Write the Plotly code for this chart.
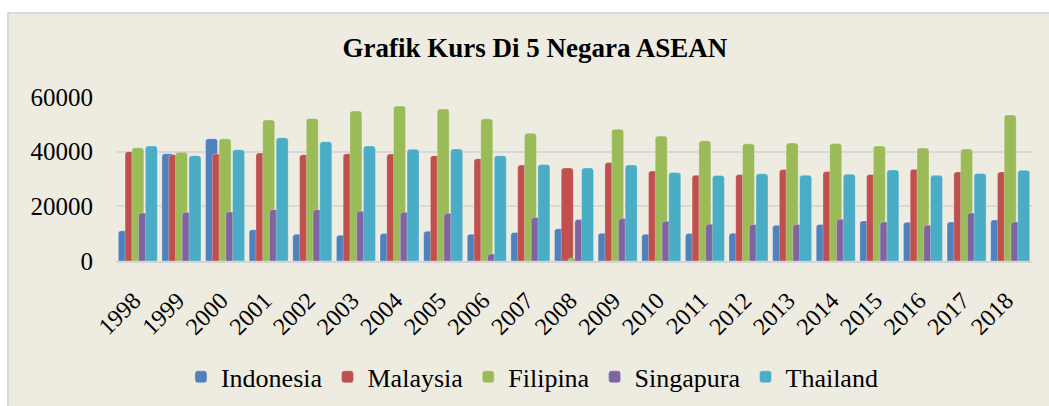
import plotly.graph_objects as go

years = [str(y) for y in range(1998, 2019)]
indonesia = [11030, 39270, 44720, 11390, 9820, 9450, 10060, 10910, 9820, 10420, 11760,
             10180, 9820, 10060, 10180, 13090, 13330, 14670, 14180, 14300, 15030]
malaysia = [40000, 38900, 39150, 39510, 38900, 39270, 39150, 38540, 37450, 35150, 34060,
            36000, 32970, 31390, 31630, 33450, 32720, 31630, 33570, 32600, 32600]
filipina = [41450, 39750, 44720, 51630, 52120, 54900, 56720, 55630, 52000, 46780, 1090,
            48240, 45690, 44000, 42900, 43150, 43030, 42060, 41330, 40970, 53450]
singapura = [17570, 17820, 17940, 18790, 18790, 18180, 17820, 17450, 2550, 15880, 15150,
             15510, 14540, 13450, 13330, 13330, 15270, 14300, 13090, 17570, 14300]
thailand = [42060, 38540, 40720, 45090, 43630, 42060, 40840, 40970, 38540, 35270, 34060,
            35150, 32360, 31270, 31880, 31390, 31750, 33330, 31390, 32000, 33210]

series = [
    ("Indonesia", indonesia, "#4F81BD"),
    ("Malaysia", malaysia, "#C0504D"),
    ("Filipina", filipina, "#9BBB59"),
    ("Singapura", singapura, "#8064A2"),
    ("Thailand", thailand, "#4BACC6"),
]

BG = "#EEECE1"
FONT = "Liberation Serif, Times New Roman, serif"

fig = go.Figure()
start, step, width = -0.447, 0.155, 0.275
for i, (name, vals, col) in enumerate(series):
    fig.add_trace(go.Bar(
        x=years, y=vals, name=name,
        offset=start + i * step, width=width,
        marker=dict(color=col, cornerradius=3,
                    line=dict(color="rgba(255,255,255,0.35)", width=0.8)),
    ))

fig.update_layout(
    width=1049, height=406,
    barmode="overlay",
    paper_bgcolor="white",
    plot_bgcolor=BG,
    margin=dict(l=116, r=17, t=97, b=145, autoexpand=False),
    font=dict(family=FONT, color="black"),
    title=dict(text="<b>Grafik Kurs Di 5 Negara ASEAN</b>",
               font=dict(family=FONT, size=27, color="black"),
               x=0.51, xref="container", xanchor="center",
               y=1 - 48 / 406, yref="container", yanchor="middle"),
    showlegend=True,
    legend=dict(orientation="h", x=0.4541, xanchor="center",
                y=-0.707, yanchor="middle",
                font=dict(family=FONT, size=26, color="black"),
                bgcolor="rgba(0,0,0,0)", traceorder="normal"),
    xaxis=dict(type="category", tickangle=-45,
               tickfont=dict(family=FONT, size=24, color="black"),
               showgrid=False, showline=True, linecolor="#D4D4D4", linewidth=2,
               ticks="", zeroline=False, automargin=False,
               ticklabelstandoff=14, ticklabelshift=-4),
    yaxis=dict(range=[0, 60000], tickvals=[0, 20000, 40000, 60000],
               ticktext=["0", "20000", "40000", "60000"],
               tickfont=dict(family=FONT, size=25, color="black"),
               showgrid=True, gridcolor="#D9D9D9",
               gridwidth=1.5, zeroline=False, showline=False, ticks="",
               ticklabelstandoff=22, automargin=False),
    shapes=[dict(type="rect", xref="paper", yref="paper",
                 x0=(8 - 116) / 916, x1=(1060 - 116) / 916,
                 y0=(261 - 430) / 164, y1=(261 - 13) / 164,
                 fillcolor=BG, line=dict(color="#D9D9D9", width=2), layer="below")],
)

fig.write_html("out.html", config={"displayModeBar": False},
               post_script="document.body.style.margin='0';document.body.style.overflow='hidden';")
